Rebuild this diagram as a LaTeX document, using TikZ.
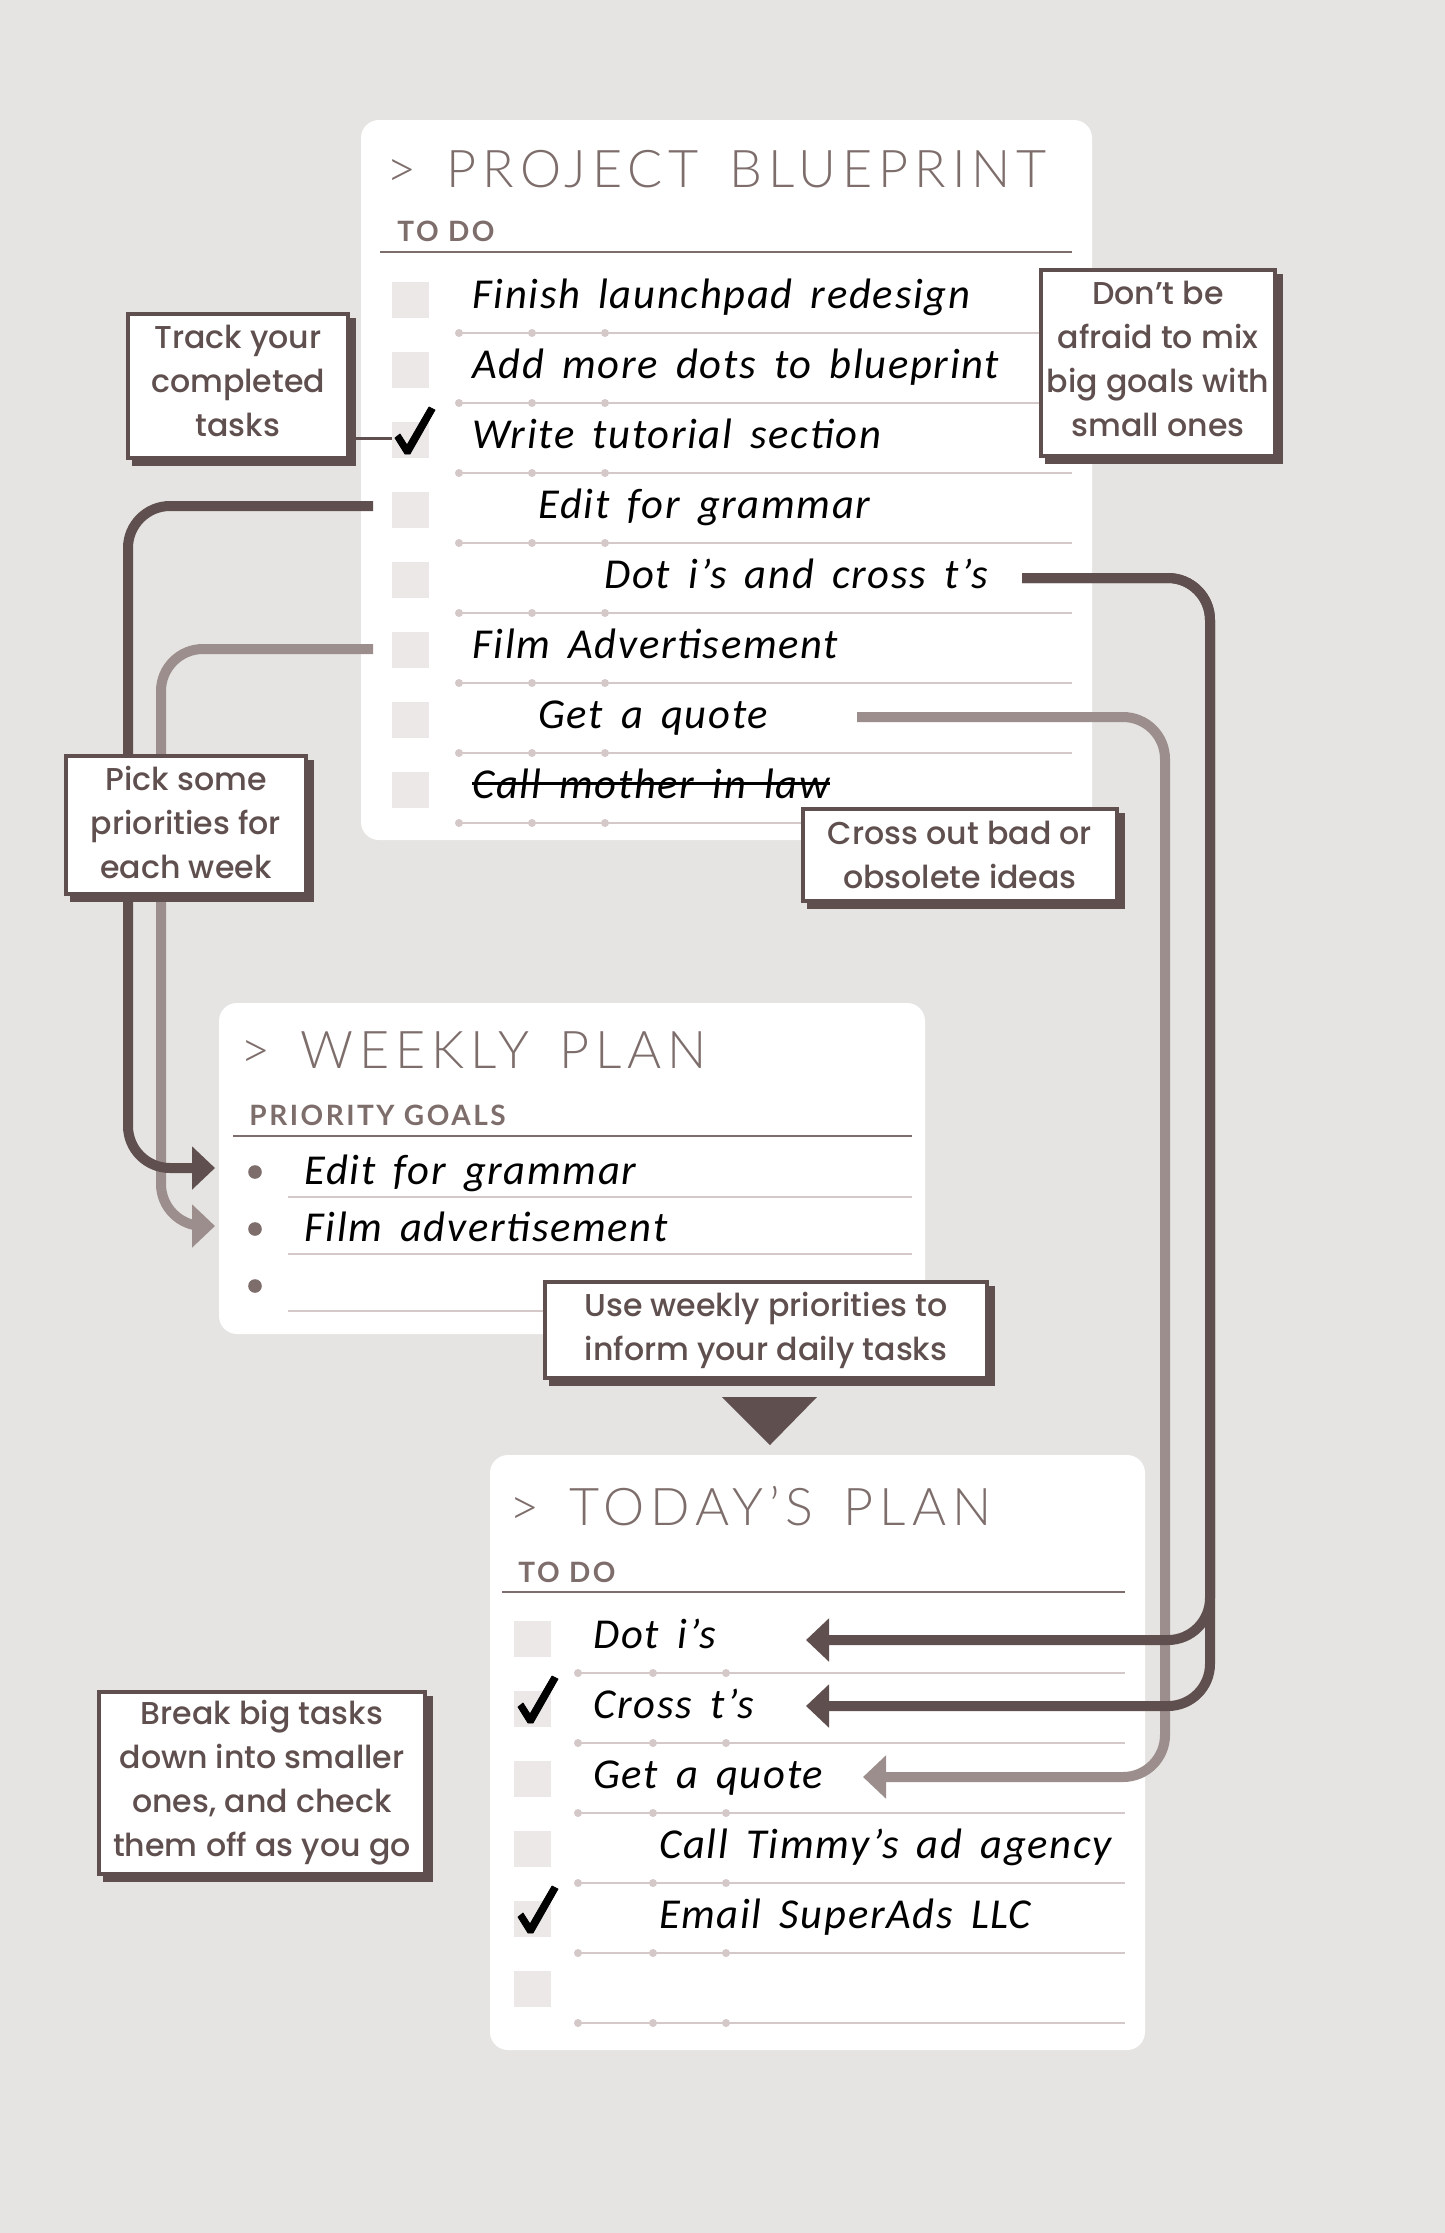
\documentclass[tikz,border=0pt]{standalone}
\usepackage{fontspec}
\usetikzlibrary{arrows.meta,shadows}
\setmainfont{Poppins Medium}
\newfontfamily\titlefont[LetterSpace=11.5,WordSpace=1.5]{Lato Light}
\newfontfamily\headfont[LetterSpace=9]{Lato Bold}
\newfontfamily\handfont[LetterSpace=4,WordSpace=1.6,ItalicFont=*]{Carlito Italic}
\definecolor{paper}{HTML}{E5E4E2}
\definecolor{umber}{HTML}{5F4F4E}
\definecolor{taupe}{HTML}{9B8E8C}
\definecolor{inkbrown}{HTML}{7D6D6B}
\definecolor{boxgrey}{HTML}{ECE8E8}
\definecolor{linepink}{HTML}{D5C8C9}
\tikzset{
    card/.style={fill=white,rounded corners=9pt},
    plantitle/.style={anchor=base west,inner sep=0pt,text=inkbrown,font=\titlefont\fontsize{26}{30}\selectfont},
    planhead/.style={anchor=base west,inner sep=0pt,text=inkbrown,font=\headfont\fontsize{14}{16}\selectfont},
    headrule/.style={draw=inkbrown,line width=1.2pt},
    taskrule/.style={draw=linepink,line width=0.9pt},
    tickdot/.style={fill=linepink},
    tasktext/.style={anchor=base west,inner sep=0pt,text=black,font=\handfont\fontsize{21.3}{24}\selectfont},
    todobox/.style={fill=boxgrey},
    tickstroke/.style={fill=black,draw=black,line width=0.4pt,line join=round},
    darkarrow/.style={draw=umber,line width=5pt,rounded corners=21pt,-{Triangle[length=11.5pt,width=21pt]}},
    lightarrow/.style={draw=taupe,line width=5pt,rounded corners=21pt,-{Triangle[length=11.5pt,width=21pt]}},
    callout/.style={draw=umber,line width=2pt,fill=white,text=umber,align=center,inner sep=0pt,
        font=\fontsize{15.8}{22}\selectfont,
        copy shadow={shadow xshift=3pt,shadow yshift=-3pt,fill=umber,draw=umber}}
}
\newcommand{\tickbox}[2]{\fill[tickstroke,shift={(#1,#2)}] (-16,-2) -- (-11,-6) -- (-4,5) -- (18,-33) -- (24,-30) -- (-1,14) -- (-6,14) -- cycle;}
\begin{document}
\begin{tikzpicture}[x=0.5pt,y=-0.5pt]
    \fill[paper] (0,0) rectangle (1445,2233);
    \useasboundingbox (0,0) rectangle (1445,2233);

    % Project blueprint card
    \fill[card] (361,120) rectangle (1092,840);
    \node[plantitle] (bluetitle) at (386,187) {> PROJECT BLUEPRINT};
    \node[planhead] (bluehead) at (397,241) {TO DO};
    \draw[headrule] (380,252) -- (1072,252);
    \foreach \r in {1,...,8}{
        \fill[todobox] (392,{212+70*\r}) rectangle (429,{248+70*\r});
        \draw[taskrule] (459,{263+70*\r}) -- (1072,{263+70*\r});
        \foreach \d in {459,532,605}
            \fill[tickdot] (\d,{263+70*\r}) circle (2pt);
    }
    \foreach \r/\x/\task in {1/472/Finish launchpad redesign,2/472/Add more dots to blueprint,
        3/472/Write tutorial section,4/538/Edit for grammar,5/604/Dot i’s and cross t’s,
        6/472/Film Advertisement,7/538/Get a quote,8/472/Call mother in law}
        \node[tasktext] (blue\r) at (\x,{238+70*\r}) {\task};
    \draw[black,line width=1.4pt] (blue8.west) -- (blue8.east);
    \tickbox{411}{440}

    % Weekly plan card
    \fill[card] (219,1003) rectangle (925,1334);
    \node[plantitle] (weektitle) at (240,1068) {> WEEKLY PLAN};
    \node[planhead] (weekhead) at (249,1125) {PRIORITY GOALS};
    \draw[headrule] (233,1136) -- (912,1136);
    \foreach \r in {0,1,2}{
        \fill[inkbrown] (255,{1172+57*\r}) circle (3.4pt);
        \draw[taskrule] (288,{1197+57*\r}) -- (912,{1197+57*\r});
    }
    \node[tasktext] (weekone) at (304,1184) {Edit for grammar};
    \node[tasktext] (weektwo) at (304,1241) {Film advertisement};

    % Today's plan card
    \fill[card] (490,1455) rectangle (1145,2050);
    \node[plantitle] (todaytitle) at (509,1525) {> TODAY’S PLAN};
    \node[planhead] (todayhead) at (518,1582) {TO DO};
    \draw[headrule] (502,1592) -- (1125,1592);
    \foreach \r in {1,...,6}{
        \fill[todobox] (514,{1551+70*\r}) rectangle (551,{1587+70*\r});
        \draw[taskrule] (578,{1603+70*\r}) -- (1125,{1603+70*\r});
        \foreach \d in {578,653,726}
            \fill[tickdot] (\d,{1603+70*\r}) circle (2pt);
    }
    \foreach \r/\x/\task in {1/593/Dot i’s,2/593/Cross t’s,3/593/Get a quote,
        4/659/Call Timmy’s ad agency,5/659/Email SuperAds LLC}
        \node[tasktext] (today\r) at (\x,{1578+70*\r}) {\task};
    \tickbox{534}{1709}
    \tickbox{534}{1919}

    % Arrow ends
    \coordinate (editout) at (373,506);
    \coordinate (filmout) at (373,649);
    \coordinate (dotsout) at (1022,578);
    \coordinate (quoteout) at (857,717);
    \coordinate (weekin) at (215,1168);
    \coordinate (filmin) at (215,1226);
    \coordinate (dotin) at (806,1640);
    \coordinate (crossin) at (806,1706);
    \coordinate (quotein) at (863,1777);
    \coordinate (trackin) at (392,438);

    % Light arrows
    \draw[lightarrow] (filmout) -- (161,649) -- (161,1226) -- (filmin);
    \draw[lightarrow] (quoteout) -- (1165,717) -- (1165,1777) -- (quotein);

    % Dark arrows
    \draw[darkarrow] (editout) -- (128,506) -- (128,1168) -- (weekin);
    \draw[darkarrow] (dotsout) -- (1210,578) -- (1210,1640) -- (dotin);
    \draw[darkarrow] (dotsout) -- (1210,578) -- (1210,1706) -- (crossin);

    % Callouts
    \node[callout,minimum width=110pt,minimum height=72pt,text depth=5pt] (track) at (238,386) {Track your\\completed\\tasks};
    \draw[umber,line width=1.5pt] (trackin -| track.east) -- (trackin);
    \node[callout,minimum width=117pt,minimum height=93pt,text depth=4pt] (mix) at (1158,363) {Don’t be\\afraid to mix\\big goals with\\small ones};
    \node[callout,minimum width=120pt,minimum height=69pt,text depth=3pt] (pick) at (186,825) {Pick some\\priorities for\\each week};
    \node[callout,minimum width=157pt,minimum height=46pt] (cross) at (960,855) {Cross out bad or\\obsolete ideas};
    \node[callout,minimum width=221pt,minimum height=48pt] (use) at (766,1330) {Use weekly priorities to\\inform your daily tasks};
    \node[callout,minimum width=163pt,minimum height=91pt] (brk) at (262,1783) {Break big tasks\\down into smaller\\ones, and check\\them off as you go};

    % Arrow between the weekly and today cards
    \fill[umber] (722,1397) -- (817,1397) -- (770,1445) -- cycle;
\end{tikzpicture}
\end{document}
